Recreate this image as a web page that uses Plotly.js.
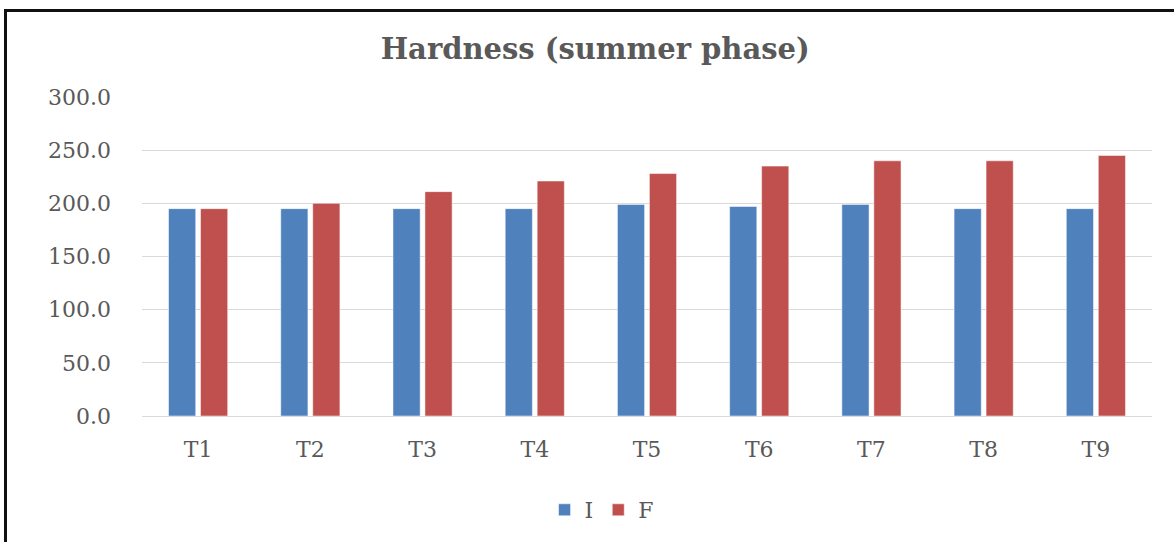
<!DOCTYPE html>
<html>
<head>
<meta charset="utf-8">
<script src="https://cdn.plot.ly/plotly-3.0.1.min.js"></script>
<style>
html,body{margin:0;padding:0;background:#fff;}
#wrap{position:relative;width:1174px;height:542px;overflow:hidden;}
#chart{position:absolute;left:0;top:0;width:1174px;height:542px;}
#frame{position:absolute;left:4px;top:9px;width:1200px;height:600px;border-left:3px solid #111;border-top:3px solid #111;box-sizing:border-box;pointer-events:none;}
</style>
</head>
<body>
<div id="wrap">
<div id="chart"></div>
<div id="frame"></div>
</div>
<script>
const categories = ["T1","T2","T3","T4","T5","T6","T7","T8","T9"];
const valuesI = [195, 195, 195, 195, 199, 197, 199, 195, 195];
const valuesF = [195, 200, 211, 221, 228, 235, 240, 240, 245];
const yTicks = [0, 50, 100, 150, 200, 250, 300];
const yTickText = ["0.0","50.0","100.0","150.0","200.0","250.0","300.0"];

const fontFam = "DejaVu Serif";
const traces = [
  {type:"bar", name:"I", x:categories, y:valuesI, marker:{color:"#4F81BD", line:{color:"rgba(255,255,255,0.5)", width:1}}},
  {type:"bar", name:"F", x:categories, y:valuesF, marker:{color:"#C0504D", line:{color:"rgba(255,255,255,0.5)", width:1}}}
];
const layout = {
  width:1174, height:542,
  margin:{l:142, r:22, t:97, b:126, autoexpand:false},
  paper_bgcolor:"#fff", plot_bgcolor:"#fff",
  barmode:"group", bargap:0.43, bargroupgap:0.15,
  title:{text:"<b>Hardness (summer phase)</b>", x:0.507, xanchor:"center", y:0.91, yanchor:"middle",
         font:{family:fontFam, size:29, color:"#595959"}},
  xaxis:{showgrid:false, showline:true, linecolor:"#d9d9d9", linewidth:1,
         tickfont:{family:fontFam, size:22, color:"#595959"}, ticks:"", ticklabelstandoff:14},
  yaxis:{range:[0,300], tickvals:yTicks, ticktext:yTickText, showgrid:true, gridcolor:"#d9d9d9", gridwidth:1,
         zeroline:false, showline:false, ticks:"", ticklabelstandoff:30,
         tickfont:{family:fontFam, size:22, color:"#595959"}},
  showlegend:true,
  legend:{orientation:"h", x:0.455, xanchor:"center", yref:"container", y:0.059, yanchor:"middle",
          font:{family:fontFam, size:22, color:"#595959"}, itemwidth:30, tracegroupgap:0}
};
Plotly.newPlot("chart", traces, layout, {displayModeBar:false, staticPlot:true});
</script>
</body>
</html>
